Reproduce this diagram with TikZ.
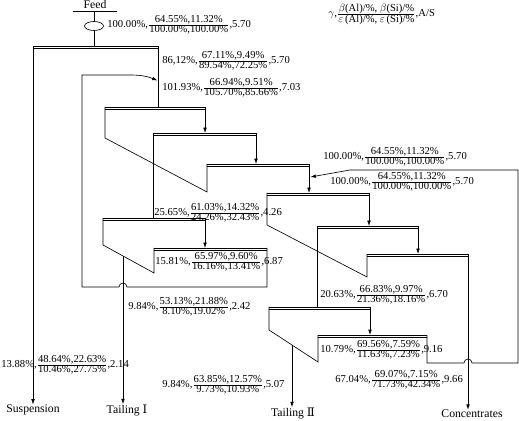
\documentclass[tikz,border=0pt]{standalone}
\usepackage{fontspec}
\setmainfont{Liberation Serif}
\newfontfamily\dvserif{DejaVu Serif}
\usetikzlibrary{arrows.meta}
\newcommand{\flowlbl}[4]{#1,$\frac{\mbox{#2}}{\mbox{#3}}$,#4}
\begin{document}
\begin{tikzpicture}[x=0.94pt,y=-0.94pt,line width=0.6pt,
  arr/.style={-{Latex[length=5pt,width=3.4pt]}},
  lab/.style={anchor=west,inner sep=0pt,font=\fontsize{10}{12}\selectfont},
  endlab/.style={inner sep=0pt,font=\fontsize{11}{13}\selectfont}]
\useasboundingbox (0,0) rectangle (519,421);
% cell tops (double lines)
\foreach \n/\xa/\xb/\y in {A/33/158/46, B/105/205/107, C/153/256/133, D/207/309/164,
  E/103/205/218, F/154/267/248, G/267/369/193, I/317/418/226, H/367/468/254,
  K/269/370/307, J/318/427/335} {
  \coordinate (\n l) at (\xa,\y);
  \coordinate (\n r) at (\xb,\y);
  \draw (\xa,\y) -- (\xb,\y) (\xa,\y+2.3) -- (\xb,\y+2.3);
}
% feed
\node[endlab] (feed) at (95,4.5) {Feed};
\coordinate (fl) at (73,11); \coordinate (fr) at (117,11); \coordinate (fm) at (94,11);
\draw (fl) -- (fr);
\draw (fm) -- (fm |- Al);
\draw[fill=white] (94,26) ellipse [x radius=9.5, y radius=4.5];
% end labels
\node[endlab] (susp) at (33,410) {Suspension};
\node[endlab] (t1) at (127,410) {Tailing {\dvserif Ⅰ}};
\node[endlab] (t2) at (293,413) {Tailing {\dvserif Ⅱ}};
\node[endlab] (conc) at (472,414) {Concentrates};
% walls
\draw[arr] (Al) -- (Al |- susp.north);
\draw (Ar) -- (Ar |- Bl);
\draw (Bl) -- (105,138) -- (207,192) -- (Dl);
\draw (Cl) -- (Cl |- El);
\draw (El) -- (103,245) -- (154,273) -- (Fl);
\draw (Gl) -- (267,225) -- (367,277) -- (Hl);
\draw (Il) -- (Il |- Kl);
\draw (Kl) -- (269,330) -- (318,362) -- (Jl);
% froth transfers
\draw[arr] (Br) -- (Br |- Cl);
\draw[arr] (Cr) -- (Cr |- Dl);
\draw[arr] (Dr) -- (Dr |- Gl);
\draw[arr] (Gr) -- (Gr |- Il);
\draw[arr] (Ir) -- (Ir |- Hl);
\draw[arr] (Er) -- (Er |- Fl);
\draw[arr] (Kr) -- (Kr |- Jl);
% concentrates
\draw[arr] (Hr) -- (Hr |- conc.north);
% tailings
\coordinate (t1s) at (123,256);
\draw[arr] (t1s) -- (t1s |- t1.north);
\coordinate (t2s) at (292,345);
\draw[arr] (t2s) -- (t2s |- t2.north);
% recycle loop 1
\draw[arr] (Fr) -- (267,287) -- (127,287) arc[start angle=0,end angle=-180,radius=4]
  -- (82,287) -- (82,75) -- (130,75) .. controls (143,75) and (149,77) .. (157.5,80.5);
% recycle loop 2
\draw[arr] (Jr) -- (427,363) -- (464,363) arc[start angle=180,end angle=360,radius=4]
  -- (518,363) -- (518,170) -- (350,170) -- (310.5,177);
% labels
\node[lab] at (107,25) {\flowlbl{100.00\%}{64.55\%,11.32\%}{100.00\%,100.00\%}{5.70}};
\node[lab] at (328,14) {$\gamma$,$\frac{\mbox{$\beta$(Al)/\%, $\beta$(Si)/\%}}{\mbox{$\varepsilon$\,(Al)/\%, $\varepsilon$\,(Si)/\%}}$,A/S};
\node[lab] at (162,61) {\flowlbl{86,12\%}{67.11\%,9.49\%}{89.54\%,72.25\%}{5.70}};
\node[lab] at (162,88) {\flowlbl{101.93\%}{66.94\%,9.51\%}{105.70\%,85.66\%}{7.03}};
\node[lab] at (154,213) {\flowlbl{25.65\%}{61.03\%,14.32\%}{24.26\%,32.43\%}{4.26}};
\node[lab] at (155,262) {\flowlbl{15.81\%}{65.97\%,9.60\%}{16.16\%,13.41\%}{6.87}};
\node[lab] at (128,307) {\flowlbl{9.84\%}{53.13\%,21.88\%}{8.10\%,19.02\%}{2.42}};
\node[lab] at (1,365) {\flowlbl{13.88\%}{48.64\%,22.63\%}{10.46\%,27.75\%}{2.14}};
\node[lab] at (162,385) {\flowlbl{9.84\%}{63.85\%,12.57\%}{9.73\%,10.93\%}{5.07}};
\node[lab] at (323,157) {\flowlbl{100.00\%}{64.55\%,11.32\%}{100.00\%,100.00\%}{5.70}};
\node[lab] at (330,182) {\flowlbl{100.00\%}{64.55\%,11.32\%}{100.00\%,100.00\%}{5.70}};
\node[lab] at (320,295) {\flowlbl{20.63\%}{66.83\%,9.97\%}{21.36\%,18.16\%}{6.70}};
\node[lab] at (320,350) {\flowlbl{10.79\%}{69.56\%,7.59\%}{11.63\%,7.23\%}{9.16}};
\node[lab] at (335,380) {\flowlbl{67.04\%}{69.07\%,7.15\%}{71.73\%,42.34\%}{9.66}};
\end{tikzpicture}
\end{document}
